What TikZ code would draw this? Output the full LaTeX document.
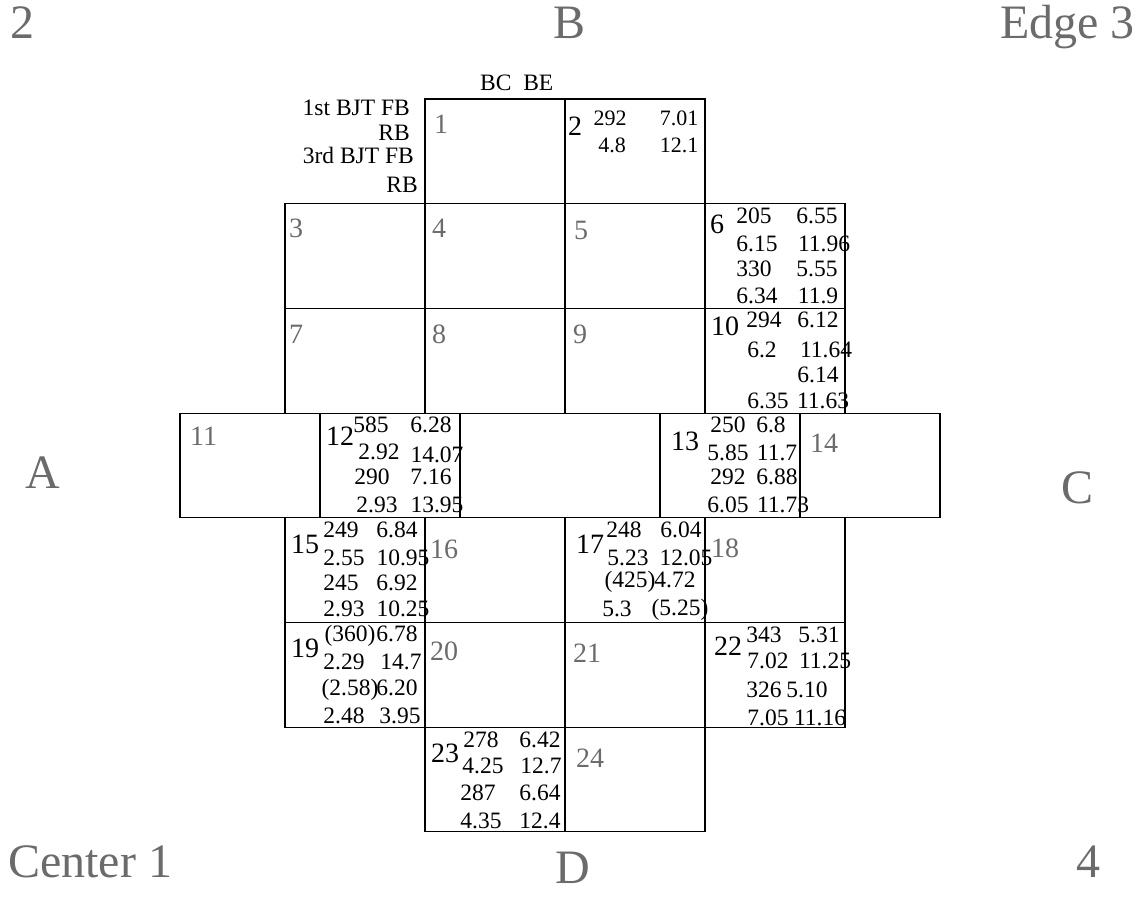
\documentclass[tikz,border=0pt]{standalone}
\usepackage{fontspec}
\setmainfont{Liberation Serif}
\tikzset{
  cell/.style={draw=black, line width=1.1pt, minimum width=140pt, minimum height=104.7pt, inner sep=0pt, outer sep=0pt, anchor=north west},
  big/.style={font=\fontsize{48}{50}\selectfont, text=black!58, inner sep=0pt, anchor=base west},
  lbl/.style={font=\fontsize{28}{28}\selectfont, text=black!58, inner sep=0pt, anchor=base west},
  num/.style={font=\fontsize{28}{28}\selectfont, text=black, inner sep=0pt, anchor=base west},
  dat/.style={font=\fontsize{23.5}{23.5}\selectfont, text=black, inner sep=0pt, anchor=base},
  sdat/.style={font=\fontsize{22}{22}\selectfont, text=black, inner sep=0pt, anchor=base},
  side/.style={font=\fontsize{23.5}{24}\selectfont, text=black, inner sep=0pt, anchor=base east}
}
\begin{document}
\begin{tikzpicture}[x=1pt,y=-1pt]
\useasboundingbox (0,0) rectangle (1148,907);
% cells
\node[cell] (c1) at (425,99) {};
\node[cell] (c2) at (565,99) {};
\node[cell] (c3) at (285,203.7) {};
\node[cell] (c4) at (425,203.7) {};
\node[cell] (c5) at (565,203.7) {};
\node[cell] (c6) at (705,203.7) {};
\node[cell] (c7) at (285,308.4) {};
\node[cell] (c8) at (425,308.4) {};
\node[cell] (c9) at (565,308.4) {};
\node[cell] (c10) at (705,308.4) {};
\node[cell] (c11) at (180,413.1) {};
\node[cell] (c12) at (320,413.1) {};
\node[cell] (c13) at (660,413.1) {};
\node[cell] (c14) at (800,413.1) {};
\node[cell] (c15) at (285,517.8) {};
\node[cell] (c16) at (425,517.8) {};
\node[cell] (c17) at (565,517.8) {};
\node[cell] (c18) at (705,517.8) {};
\node[cell] (c19) at (285,622.5) {};
\node[cell] (c20) at (425,622.5) {};
\node[cell] (c21) at (565,622.5) {};
\node[cell] (c22) at (705,622.5) {};
\node[cell] (c23) at (425,727.2) {};
\node[cell] (c24) at (565,727.2) {};
% big corner / side letters
\node[big] (b2) at (10,38) {2};
\node[big] (bB) at (553,38) {B};
\node[big] (bE) at (1000,38) {Edge 3};
\node[big] (bA) at (25,488) {A};
\node[big] (bC) at (1061,503) {C};
\node[big] (bCe) at (8,877) {Center 1};
\node[big] (bD) at (555,883) {D};
\node[big] (b4) at (1076,877) {4};
% legend
\node[side, anchor=base west] (hBC) at (480,90) {BC\ \ BE};
\node[side] (h1) at (410,115) {1st BJT FB};
\node[side] (h2) at (410,140) {RB};
\node[side] (h3) at (414,163) {3rd BJT FB};
\node[side] (h4) at (418,192) {RB};
% outlined cell numbers
\node[lbl] (n1) at (434,133) {1};
\node[lbl] (n3) at (289,237) {3};
\node[lbl] (n4) at (432,237) {4};
\node[lbl] (n5) at (574,239) {5};
\node[lbl] (n7) at (289,343) {7};
\node[lbl] (n8) at (432,343) {8};
\node[lbl] (n9) at (573,343) {9};
\node[lbl] (n11) at (190,445) {11};
\node[lbl] (n14) at (810,452) {14};
\node[lbl] (n16) at (430,558) {16};
\node[lbl] (n18) at (711,557) {18};
\node[lbl] (n20) at (430,660) {20};
\node[lbl] (n21) at (573,662) {21};
\node[lbl] (n24) at (576,767) {24};
% cell 2
\node[num] (n2) at (568,135) {2};
\node[sdat] (d2a) at (610,125) {292};
\node[sdat] (d2b) at (679,125) {7.01};
\node[sdat] (d2c) at (612,152) {4.8};
\node[sdat] (d2d) at (679,152) {12.1};
% cell 6
\node[num] (n6) at (710,233) {6};
\node[dat] (d6a) at (754,223) {205};
\node[dat] (d6b) at (817,223) {6.55};
\node[dat] (d6c) at (757,251) {6.15};
\node[dat] (d6d) at (824,251) {11.96};
\node[dat] (d6e) at (754,276) {330};
\node[dat] (d6f) at (817,276) {5.55};
\node[dat] (d6g) at (757,303) {6.34};
\node[dat] (d6h) at (818,303) {11.9};
% cell 10
\node[num] (n10) at (711,335) {10};
\node[dat] (d10a) at (764,327) {294};
\node[dat] (d10b) at (818,327) {6.12};
\node[dat] (d10c) at (762,357) {6.2};
\node[dat] (d10d) at (826,357) {11.64};
\node[dat] (d10e) at (818,382) {6.14};
\node[dat] (d10f) at (768,408) {6.35};
\node[dat] (d10g) at (823,408) {11.63};
% cell 12
\node[num] (n12) at (326,445) {12};
\node[dat] (d12a) at (371,432) {585};
\node[dat] (d12b) at (431,432) {6.28};
\node[dat] (d12c) at (379,459) {2.92};
\node[dat] (d12d) at (437,462) {14.07};
\node[dat] (d12e) at (372,484) {290};
\node[dat] (d12f) at (431,484) {7.16};
\node[dat] (d12g) at (377,512) {2.93};
\node[dat] (d12h) at (437,512) {13.95};
% cell 13
\node[num] (n13) at (671,450) {13};
\node[dat] (d13a) at (728,432) {250};
\node[dat] (d13b) at (771,432) {6.8};
\node[dat] (d13c) at (728,460) {5.85};
\node[dat] (d13d) at (777,460) {11.7};
\node[dat] (d13e) at (728,484) {292};
\node[dat] (d13f) at (777,484) {6.88};
\node[dat] (d13g) at (728,512) {6.05};
\node[dat] (d13h) at (783,512) {11.73};
% cell 15
\node[num] (n15) at (291,553) {15};
\node[dat] (d15a) at (341,537) {249};
\node[dat] (d15b) at (397,537) {6.84};
\node[dat] (d15c) at (344,565) {2.55};
\node[dat] (d15d) at (403,565) {10.95};
\node[dat] (d15e) at (341,590) {245};
\node[dat] (d15f) at (397,590) {6.92};
\node[dat] (d15g) at (344,616) {2.93};
\node[dat] (d15h) at (403,616) {10.25};
% cell 17
\node[num] (n17) at (576,553) {17};
\node[dat] (d17a) at (624,537) {248};
\node[dat] (d17b) at (681,537) {6.04};
\node[dat] (d17c) at (628,565) {5.23};
\node[dat] (d17d) at (686,565) {12.05};
\node[dat] (d17e) at (630,587) {(425)};
\node[dat] (d17f) at (675,587) {4.72};
\node[dat] (d17g) at (617,616) {5.3};
\node[dat] (d17h) at (680,615) {(5.25)};
% cell 19
\node[num] (n19) at (291,657) {19};
\node[dat] (d19a) at (350,641) {(360)};
\node[dat] (d19b) at (397,641) {6.78};
\node[dat] (d19c) at (344,669) {2.29};
\node[dat] (d19d) at (401,669) {14.7};
\node[dat] (d19e) at (350,695) {(2.58)};
\node[dat] (d19f) at (397,695) {6.20};
\node[dat] (d19g) at (344,723) {2.48};
\node[dat] (d19h) at (400,723) {3.95};
% cell 22
\node[num] (n22) at (714,655) {22};
\node[dat] (d22a) at (764,642) {343};
\node[dat] (d22b) at (819,642) {5.31};
\node[dat] (d22c) at (768,668) {7.02};
\node[dat] (d22d) at (825,668) {11.25};
\node[dat] (d22e) at (764,697) {326};
\node[dat] (d22f) at (807,697) {5.10};
\node[dat] (d22g) at (768,725) {7.05};
\node[dat] (d22h) at (820,725) {11.16};
% cell 23
\node[num] (n23) at (431,762) {23};
\node[dat] (d23a) at (481,747) {278};
\node[dat] (d23b) at (540,747) {6.42};
\node[dat] (d23c) at (483,773) {4.25};
\node[dat] (d23d) at (541,773) {12.7};
\node[dat] (d23e) at (478,800) {287};
\node[dat] (d23f) at (540,800) {6.64};
\node[dat] (d23g) at (481,828) {4.35};
\node[dat] (d23h) at (540,828) {12.4};
\end{tikzpicture}
\end{document}
